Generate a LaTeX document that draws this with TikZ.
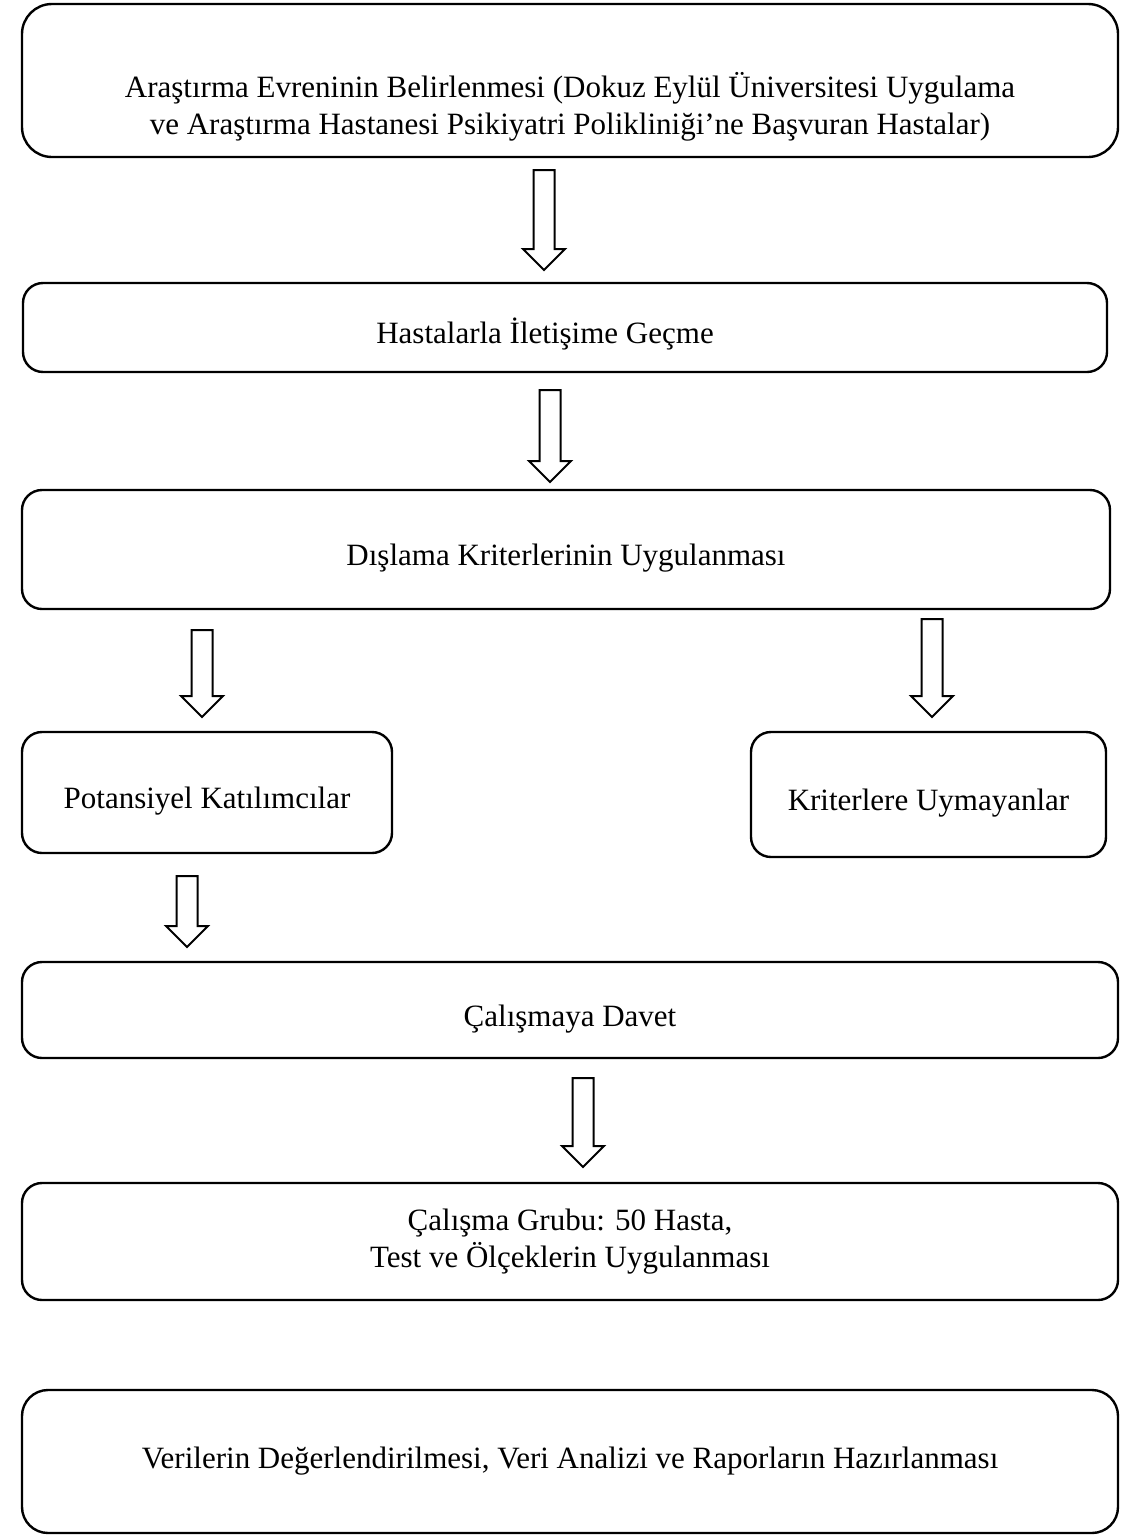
\documentclass[tikz,border=0pt]{standalone}
\usepackage{fontspec}
\setmainfont{Liberation Serif}
\usepackage{tikz}
\usetikzlibrary{calc}

\tikzset{
    flowbox/.style={draw=black, line width=1.2pt, rounded corners=10pt, inner sep=0pt,
        align=center, font=\fontsize{15.5pt}{18.5pt}\selectfont},
    oneline/.style={text height=19pt, text depth=3pt},
    arrowline/.style={draw=black, line width=1pt, line join=miter, fill=white},
}
% hollow block arrow from #1 (top of shaft) down to #2 (tip)
\newcommand{\hollowarrow}[2]{%
    \draw[arrowline] ($(#1)+(-10.5,0)$) -- ($(#2)+(-10.5,-21)$) -- ($(#2)+(-21,-21)$) -- (#2)
        -- ($(#2)+(21,-21)$) -- ($(#2)+(10.5,-21)$) -- ($(#1)+(10.5,0)$) -- cycle;}

\begin{document}
\begin{tikzpicture}[x=0.5pt, y=-0.5pt]
        \useasboundingbox (0,0) rectangle (1138,1537);
        % boxes
        \node[flowbox, rounded corners=15pt, minimum width=548pt, minimum height=76.5pt] (evren) at (570,80.5)
            {\rule{0pt}{39pt}Araştırma Evreninin Belirlenmesi (Dokuz Eylül Üniversitesi Uygulama\\ve Araştırma Hastanesi Psikiyatri Polikliniği’ne Başvuran Hastalar)};
        \node[flowbox, oneline, minimum width=542pt, minimum height=44.5pt] (iletisim) at (565,327.5)
            {Hastalarla İletişime Geçme\hspace*{20pt}};
        \node[flowbox, oneline, minimum width=544pt, minimum height=59.5pt] (dislama) at (566,549.5)
            {Dışlama Kriterlerinin Uygulanması};
        \node[flowbox, oneline, minimum width=185pt, minimum height=60.5pt] (potansiyel) at (207,792.5)
            {Potansiyel Katılımcılar};
        \node[flowbox, oneline, minimum width=177.5pt, minimum height=62.5pt] (uymayan) at (928.5,794.5)
            {Kriterlere Uymayanlar};
        \node[flowbox, oneline, minimum width=548pt, minimum height=48pt] (davet) at (570,1010)
            {Çalışmaya Davet};
        \node[flowbox, minimum width=548pt, minimum height=58.5pt] (grup) at (570,1241.5)
            {Çalışma Grubu: 50 Hasta,\\Test ve Ölçeklerin Uygulanması};
        \node[flowbox, rounded corners=13pt, minimum width=548pt, minimum height=71.5pt] (analiz) at (570,1461.5)
            {Verilerin Değerlendirilmesi, Veri Analizi ve Raporların Hazırlanması};
        % arrows
        \coordinate (a1top) at (544,170);  \coordinate (a1tip) at (544,270);
        \coordinate (a2top) at (550,390);  \coordinate (a2tip) at (550,482);
        \coordinate (a3top) at (202,630);  \coordinate (a3tip) at (202,717);
        \coordinate (a4top) at (932,619);  \coordinate (a4tip) at (932,717);
        \coordinate (a5top) at (187,876);  \coordinate (a5tip) at (187,947);
        \coordinate (a6top) at (583,1078); \coordinate (a6tip) at (583,1167);
        \foreach \arr in {a1,a2,a3,a4,a5,a6} {
            \hollowarrow{\arr top}{\arr tip}
        }
\end{tikzpicture}
\end{document}
